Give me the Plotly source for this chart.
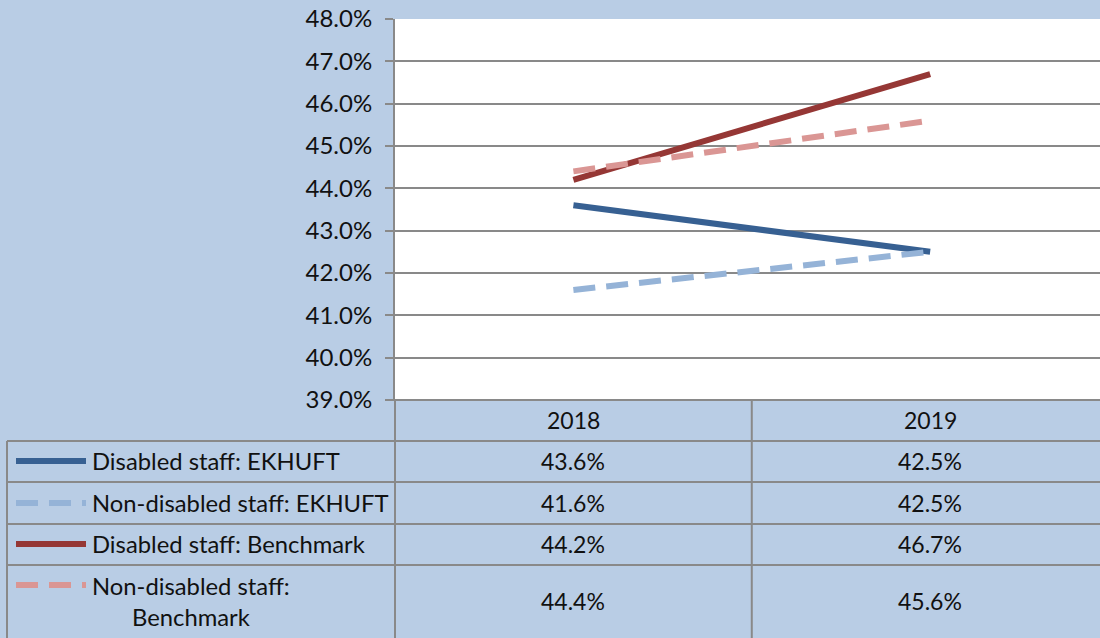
import plotly.graph_objects as go

years = ["2018", "2019"]
series_names = [
    "Disabled staff: EKHUFT",
    "Non-disabled staff: EKHUFT",
    "Disabled staff: Benchmark",
    "Non-disabled staff:<br>Benchmark",
]
disabled_ekhuft = [43.6, 42.5]
nondisabled_ekhuft = [41.6, 42.5]
disabled_bench = [44.2, 46.7]
nondisabled_bench = [44.4, 45.6]
y_ticks = [39, 40, 41, 42, 43, 44, 45, 46, 47, 48]

series_values = [disabled_ekhuft, nondisabled_ekhuft, disabled_bench, nondisabled_bench]
colors = ["#376092", "#95B3D7", "#953735", "#DA9694"]
dashes = ["solid", "22px,11px", "solid", "22px,11px"]

W, H = 1100, 638
L, T, B = 395, 19, 400  # plot area pixel bounds
XR = [-0.5, 1.476]
BG = "#B9CDE5"
GRID = "#898989"
FONT = "Lato"
TXT = "#111111"

def py(p):  # pixel y -> paper y
    return (B - p) / (B - T)

def px(p):  # pixel x -> paper x
    return (p - L) / (W - L)

def cx(i):  # category index -> paper x
    return (i - XR[0]) / (XR[1] - XR[0])

fig = go.Figure()
for name, vals, c, d in zip(series_names, series_values, colors, dashes):
    fig.add_trace(go.Scatter(x=years, y=vals, mode="lines", name=name.replace("<br>", " "),
                             line=dict(color=c, width=6, dash=d), showlegend=False))

shapes = []
row_lines = [441, 482, 524, 565]
shapes.append(dict(type="line", xref="paper", yref="paper", x0=px(387), x1=px(1100), y0=py(400), y1=py(400),
                   line=dict(color=GRID, width=2)))
for r in row_lines:
    shapes.append(dict(type="line", xref="paper", yref="paper", x0=px(7), x1=px(1100), y0=py(r), y1=py(r),
                       line=dict(color=GRID, width=2)))
shapes.append(dict(type="line", xref="paper", yref="paper", x0=px(7), x1=px(7), y0=py(441), y1=py(640),
                   line=dict(color=GRID, width=2)))
shapes.append(dict(type="line", xref="paper", yref="paper", x0=px(395), x1=px(395), y0=py(400), y1=py(640),
                   line=dict(color=GRID, width=2)))
shapes.append(dict(type="line", xref="paper", yref="paper", x0=cx(0.5), x1=cx(0.5), y0=py(400), y1=py(640),
                   line=dict(color=GRID, width=2)))

annotations = []
for i, yr in enumerate(years):
    annotations.append(dict(x=cx(i), y=py(420), xref="paper", yref="paper", text=yr, showarrow=False,
                            xanchor="center", yanchor="middle",
                            font=dict(family=FONT, size=23, color=TXT)))
row_centers = [461, 503, 544, 601]
key_y = [461, 503, 544, 585]
for k, (name, vals, c, d) in enumerate(zip(series_names, series_values, colors, dashes)):
    for i, v in enumerate(vals):
        annotations.append(dict(x=cx(i), y=py(row_centers[k]), xref="paper", yref="paper", text=f"{v:.1f}%",
                                showarrow=False, xanchor="center", yanchor="middle",
                                font=dict(family=FONT, size=23, color=TXT)))
    annotations.append(dict(x=px(90), y=py(row_centers[k]), xref="paper", yref="paper", text=name,
                            xanchor="left", yanchor="middle", align="center", showarrow=False,
                            font=dict(family=FONT, size=23.8, color=TXT)))
    shapes.append(dict(type="line", xref="paper", yref="paper", x0=px(16), x1=px(86),
                       y0=py(key_y[k]), y1=py(key_y[k]), line=dict(color=c, width=6, dash=d)))

fig.update_layout(
    width=W, height=H,
    margin=dict(l=L, r=0, t=T, b=H - B),
    paper_bgcolor=BG, plot_bgcolor="white",
    showlegend=False,
    shapes=shapes, annotations=annotations,
    xaxis=dict(type="category", range=XR, showticklabels=False, showgrid=False,
               zeroline=False, showline=False, ticks=""),
    yaxis=dict(range=[39, 48], tickvals=y_ticks, ticktext=[f"{v:.1f}%" for v in y_ticks],
               showgrid=True, gridcolor=GRID, gridwidth=2, zeroline=False,
               showline=True, linecolor=GRID, linewidth=2,
               ticks="outside", ticklen=8, tickcolor=GRID, tickwidth=2,
               tickfont=dict(family=FONT, size=24, color=TXT), ticklabelstandoff=8),
)
fig.write_html("out.html", config={"displayModeBar": False},
               post_script="document.body.style.margin='0';")
